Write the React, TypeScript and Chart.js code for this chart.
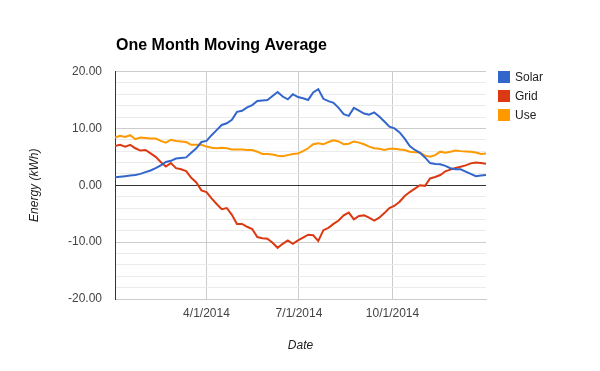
import React, { useEffect, useRef } from "react";
import { Chart, registerables } from "chart.js";

Chart.register(...registerables);

const days = [
  0, 5, 10, 15, 20, 25, 30, 35, 40, 45, 50, 55, 60, 65, 70, 75, 80, 85, 90, 95,
  100, 105, 110, 115, 120, 125, 130, 135, 140, 145, 150, 155, 160, 165, 170, 175,
  180, 185, 190, 195, 200, 205, 210, 215, 220, 225, 230, 235, 240, 245, 250, 255,
  260, 265, 270, 275, 280, 285, 290, 295, 300, 305, 310, 315, 320, 325, 330, 335,
  340, 345, 350, 355, 360, 365,
];

const solar = [
  1.4, 1.5, 1.6, 1.7, 1.8, 2.0, 2.3, 2.6, 3.0, 3.5, 4.1, 4.3, 4.7, 4.8, 4.9, 5.7,
  6.5, 7.6, 7.8, 8.8, 9.7, 10.6, 10.9, 11.5, 12.9, 13.1, 13.7, 14.1, 14.8, 14.9,
  15.0, 15.7, 16.4, 15.6, 15.1, 16.0, 15.5, 15.3, 15.0, 16.3, 16.9, 15.2, 14.8,
  14.5, 13.6, 12.5, 12.2, 13.6, 13.1, 12.6, 12.4, 12.8, 12.1, 11.2, 10.3, 10.0,
  9.3, 8.2, 6.9, 6.2, 5.7, 4.9, 3.9, 3.75, 3.7, 3.4, 3.0, 2.8, 2.8, 2.4, 2.0, 1.6,
  1.7, 1.8,
];

const grid = [
  6.9, 7.1, 6.8, 7.1, 6.5, 6.1, 6.2, 5.6, 5.0, 4.1, 3.3, 3.9, 3.0, 2.8, 2.5, 1.3,
  0.5, -0.9, -1.2, -2.3, -3.3, -4.2, -4.0, -5.2, -6.8, -6.8, -7.3, -7.7, -9.1,
  -9.3, -9.4, -10.1, -11.0, -10.3, -9.7, -10.3, -9.7, -9.2, -8.7, -8.8, -9.8,
  -7.9, -7.5, -6.8, -6.2, -5.3, -4.8, -6.0, -5.4, -5.3, -5.7, -6.2, -5.7, -4.9,
  -4.0, -3.6, -2.9, -1.9, -1.2, -0.6, 0.0, -0.1, 1.2, 1.45, 1.8, 2.45, 2.75, 3.05,
  3.25, 3.5, 3.85, 4.0, 3.9, 3.8,
];

const use = [
  8.4, 8.7, 8.5, 8.8, 8.1, 8.4, 8.3, 8.2, 8.2, 7.8, 7.5, 8.0, 7.8, 7.7, 7.6, 7.1,
  7.1, 7.1, 6.8, 6.6, 6.5, 6.6, 6.5, 6.3, 6.3, 6.3, 6.2, 6.2, 5.9, 5.5, 5.5, 5.4,
  5.2, 5.1, 5.3, 5.5, 5.6, 6.0, 6.5, 7.2, 7.4, 7.2, 7.6, 7.9, 7.7, 7.2, 7.3, 7.7,
  7.5, 7.2, 6.8, 6.5, 6.4, 6.2, 6.4, 6.4, 6.3, 6.2, 5.9, 5.8, 5.75, 5.2, 5.0, 5.3,
  5.9, 5.7, 5.9, 6.1, 6.0, 5.95, 5.9, 5.75, 5.5, 5.6,
];

const xTickDays = [90, 181, 273];
const xTickLabels = ["4/1/2014", "7/1/2014", "10/1/2014"];

const seriesNames = ["Solar", "Grid", "Use"];
const seriesColors = ["#3366cc", "#dc3912", "#ff9900"];

const FONT = "'Liberation Sans', Arial, sans-serif";

const overlayPlugin = {
  id: "overlay",
  afterDraw(chart: any) {
    const ctx = chart.ctx;
    ctx.save();
    ctx.fillStyle = "#000";
    ctx.font = `bold 16px ${FONT}`;
    ctx.textAlign = "left";
    ctx.textBaseline = "alphabetic";
    ctx.fillText("One Month Moving Average", chart.chartArea.left + 1, 50);

    ctx.font = `12px ${FONT}`;
    ctx.textBaseline = "middle";
    seriesNames.forEach((name, i) => {
      const y = 71 + i * 19;
      ctx.fillStyle = seriesColors[i];
      ctx.fillRect(498, y, 12, 12);
      ctx.fillStyle = "#222";
      ctx.fillText(name, 515, y + 6.5);
    });
    ctx.restore();
  },
};

export default function App() {
  const ref = useRef<HTMLCanvasElement>(null);

  useEffect(() => {
    const canvas = ref.current!;
    const chart = new Chart(canvas, {
      type: "line",
      data: {
        datasets: seriesNames.map((name, i) => ({
          label: name,
          data: days.map((d, j) => ({ x: d, y: [solar, grid, use][i][j] })),
          borderColor: seriesColors[i],
          backgroundColor: seriesColors[i],
          borderWidth: 2,
          pointRadius: 0,
          tension: 0,
          fill: false,
        })),
      },
      options: {
        responsive: false,
        animation: false,
        layout: { padding: { left: 0, right: 114, top: 71.5, bottom: 0 } },
        plugins: {
          legend: { display: false },
          title: { display: false },
          tooltip: { enabled: false },
        },
        scales: {
          x: {
            type: "linear",
            min: 0,
            max: 365,
            afterBuildTicks: (scale: any) => {
              scale.ticks = xTickDays.map((v) => ({ value: v }));
            },
            afterFit: (scale: any) => {
              scale.height = 72;
            },
            ticks: {
              autoSkip: false,
              maxRotation: 0,
              padding: 7,
              color: "#444",
              font: { family: FONT, size: 12 },
              callback: (v: any) => {
                const k = xTickDays.indexOf(Number(v));
                return k >= 0 ? xTickLabels[k] : "";
              },
            },
            grid: { color: "#cccccc", drawTicks: false, lineWidth: 1 },
            border: { display: true, color: "#cccccc" },
            title: {
              display: true,
              text: "Date",
              color: "#222",
              font: { family: FONT, size: 12, style: "italic" },
              padding: { top: 0, bottom: 18 },
            },
          },
          y: {
            type: "linear",
            min: -20,
            max: 20,
            afterFit: (scale: any) => {
              scale.width = 115;
            },
            ticks: {
              stepSize: 2,
              autoSkip: false,
              padding: 13,
              color: "#444",
              font: { family: FONT, size: 12 },
              callback: (v: any) => {
                const n = Math.round(Number(v));
                return n % 10 === 0 ? n.toFixed(2) : "";
              },
            },
            grid: {
              drawTicks: false,
              lineWidth: 1,
              color: (c: any) => {
                const v = c.tick ? Math.round(c.tick.value) : 1;
                if (v === 0) return "#333333";
                if (v % 10 === 0) return "#cccccc";
                return "#ebebeb";
              },
            },
            border: { display: true, color: "#333333" },
            title: {
              display: true,
              text: "Energy (kWh)",
              color: "#222",
              font: { family: FONT, size: 12, style: "italic" },
              padding: { top: 27, bottom: 0 },
            },
          },
        },
      },
      plugins: [overlayPlugin],
    });
    return () => chart.destroy();
  }, []);

  return (
    <div style={{ position: "fixed", left: 0, top: 0, width: 600, height: 371, background: "#fff" }}>
      <canvas ref={ref} width={600} height={371} />
    </div>
  );
}
